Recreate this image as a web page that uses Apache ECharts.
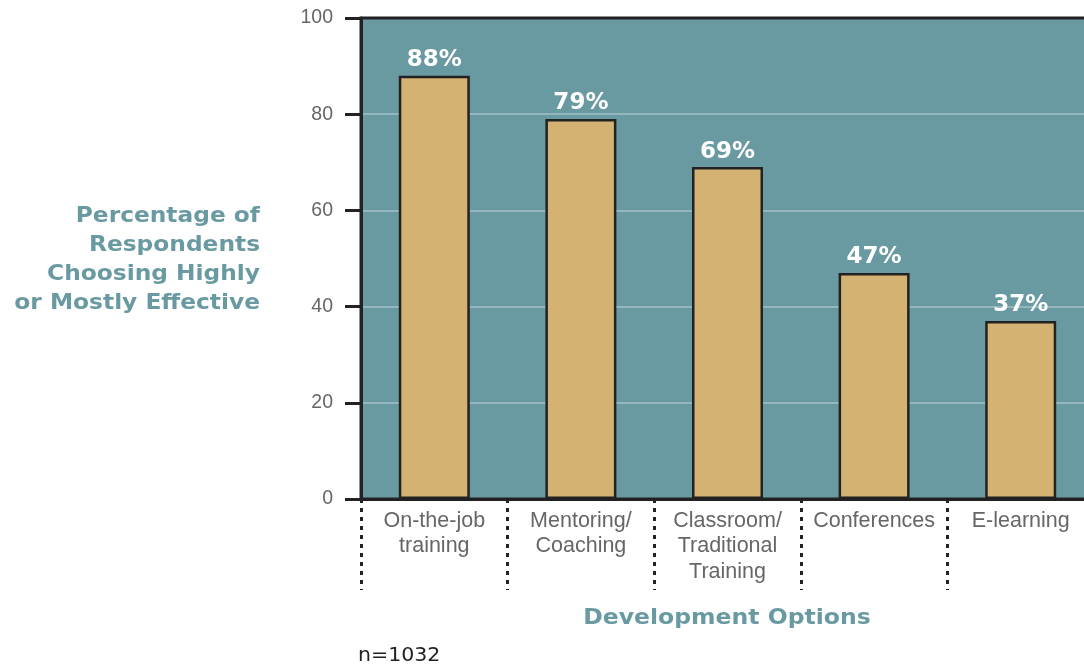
<!DOCTYPE html>
<html>
<head>
<meta charset="utf-8">
<script src="https://cdn.jsdelivr.net/npm/echarts@6/dist/echarts.min.js"></script>
<style>
  html, body { margin: 0; padding: 0; background: #ffffff; }
  #chart { width: 1084px; height: 667px; }
</style>
</head>
<body>
<div id="chart"></div>
<script>
// Development options and share of respondents rating each highly or mostly effective
const categories = ['On-the-job\ntraining', 'Mentoring/\nCoaching', 'Classroom/\nTraditional\nTraining', 'Conferences', 'E-learning'];
const effectivePct = [88, 79, 69, 47, 37];
const yTicks = [0, 20, 40, 60, 80, 100];

const teal = '#6a9aa1';
const ink = '#222222';
const boldFace = '"DejaVu Sans", Verdana, sans-serif';

const chart = echarts.init(document.getElementById('chart'));
chart.setOption({
  animation: false,
  grid: {
    left: 361, top: 18, width: 733, height: 481,
    outerBoundsMode: 'none',
    containLabel: false,
    show: true,
    backgroundColor: teal,
    borderColor: ink,
    borderWidth: 3
  },
  xAxis: {
    type: 'category',
    data: categories,
    boundaryGap: true,
    axisLine: { show: true, lineStyle: { color: ink, width: 3 } },
    axisTick: {
      show: true, alignWithLabel: false, inside: false, length: 91,
      lineStyle: { color: ink, width: 3, type: [4, 5] }
    },
    axisLabel: {
      margin: 9,
      fontFamily: 'Liberation Sans, Arial, sans-serif',
      fontSize: 21.5,
      lineHeight: 25.5,
      color: '#666666',
      interval: 0
    },
    splitLine: { show: false }
  },
  yAxis: {
    type: 'value',
    min: yTicks[0],
    max: yTicks[yTicks.length - 1],
    interval: yTicks[1] - yTicks[0],
    axisLine: { show: true, lineStyle: { color: ink, width: 3 } },
    axisTick: { show: true, length: 16, lineStyle: { color: ink, width: 3 } },
    axisLabel: {
      margin: 28,
      fontFamily: 'Liberation Sans, Arial, sans-serif',
      fontSize: 19.5,
      color: '#666666'
    },
    splitLine: {
      show: true, showMinLine: false, showMaxLine: false,
      lineStyle: { color: '#93b7bc', width: 2 }
    }
  },
  series: [{
    type: 'bar',
    data: effectivePct,
    barWidth: 71,
    itemStyle: { color: '#d4b272', borderColor: ink, borderWidth: 2.5 },
    label: {
      show: true,
      position: 'top',
      distance: 4,
      formatter: '{c}%',
      color: '#ffffff',
      fontFamily: boldFace,
      fontWeight: 'bold',
      fontSize: 23
    }
  }],
  graphic: [
    {
      type: 'text', x: 260, y: 202.5, scaleX: 1.11,
      style: {
        text: 'Percentage of\nRespondents\nChoosing Highly\nor Mostly Effective',
        align: 'right',
        fill: teal,
        font: 'bold 21px ' + boldFace,
        lineHeight: 29
      }
    },
    {
      type: 'text', x: 727, y: 619, scaleX: 1.12,
      style: {
        text: 'Development Options',
        align: 'center', verticalAlign: 'middle',
        fill: teal,
        font: 'bold 21px ' + boldFace
      }
    },
    {
      type: 'text', x: 358, y: 656, scaleX: 1.08,
      style: {
        text: 'n=1032',
        align: 'left', verticalAlign: 'middle',
        fill: ink,
        font: '19px ' + boldFace
      }
    }
  ]
});
</script>
</body>
</html>
